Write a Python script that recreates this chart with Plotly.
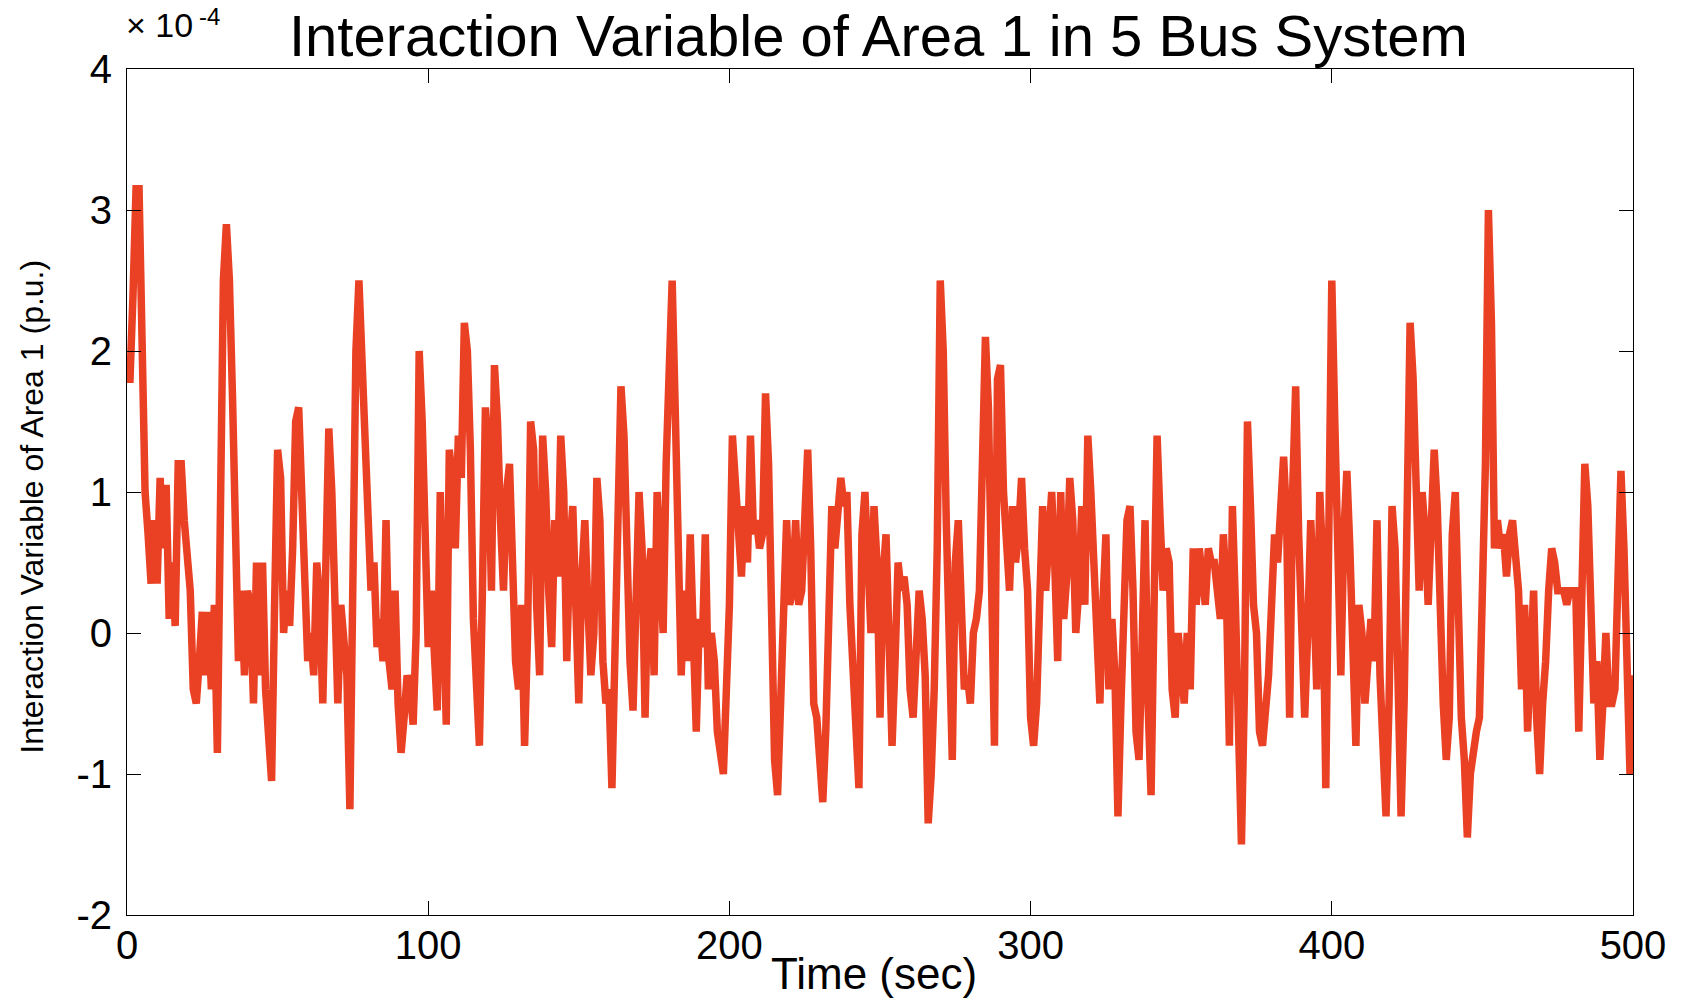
import plotly.graph_objects as go

# Time axis (sec), one sample per second
time_sec = list(range(0, 501))

# Interaction variable of Area 1, in units of 1e-4 p.u.
values_e4 = [
    1.8, 1.8, 2.4, 3.15, 3.15, 2.0, 1.0, 0.7, 0.35, 0.8,
    0.35, 1.1, 0.6, 1.05, 0.1, 0.5, 0.05, 1.2, 1.2, 0.8,
    0.6, 0.3, -0.4, -0.5, -0.2, 0.15, -0.3, 0.15, -0.4, 0.2,
    -0.85, 0.5, 2.5, 2.9, 2.5, 1.7, 0.8, -0.2, 0.3, -0.3,
    0.3, 0.2, -0.5, 0.5, -0.3, 0.5, -0.4, -0.7, -1.05, 0.2,
    1.3, 1.1, 0.0, 0.3, 0.05, 0.6, 1.5, 1.6, 1.0, 0.4,
    -0.2, 0.0, -0.3, 0.5, 0.2, -0.5, 0.8, 1.45, 1.0, 0.2,
    -0.5, 0.2, 0.0, -0.3, -1.25, 0.4, 2.0, 2.5, 2.0, 1.5,
    0.9, 0.3, 0.5, -0.1, 0.1, -0.2, 0.8, -0.2, -0.4, 0.3,
    -0.5, -0.85, -0.6, -0.3, -0.4, -0.65, 0.0, 2.0, 1.5, 0.6,
    -0.1, 0.3, -0.3, -0.55, 1.0, 0.2, -0.65, 1.3, 1.1, 0.6,
    1.4, 1.1, 2.2, 2.0, 1.3, 0.1, -0.5, -0.8, 0.3, 1.6,
    1.3, 0.3, 1.9, 1.5, 0.8, 0.3, 1.0, 1.2, 0.5, -0.2,
    -0.4, 0.2, -0.8, 0.0, 1.5, 1.3, 0.2, -0.3, 1.4, 1.0,
    0.3, -0.1, 0.8, 0.4, 1.4, 1.0, -0.2, 0.6, 0.9, 0.1,
    -0.5, 0.4, 0.8, 0.2, -0.3, 0.0, 1.1, 0.8, -0.2, -0.5,
    -0.4, -1.1, -0.3, 0.8, 1.75, 1.4, 0.5, -0.2, -0.55, 0.2,
    1.0, 0.6, -0.6, 0.4, 0.6, -0.3, 1.0, 0.5, 0.0, 1.2,
    2.0, 2.5, 1.6, 0.4, -0.3, 0.3, -0.2, 0.7, -0.3, -0.7,
    0.1, -0.1, 0.7, -0.4, 0.0, -0.2, -0.7, -0.9, -1.0, -0.4,
    0.2, 1.4, 1.1, 0.7, 0.4, 0.9, 0.5, 1.4, 0.7, 0.8,
    0.6, 0.7, 1.7, 1.2, 0.2, -0.9, -1.15, -0.5, 0.5, 0.8,
    0.2, 0.3, 0.8, 0.2, 0.3, 0.8, 1.3, 0.6, -0.5, -0.6,
    -1.0, -1.2, -0.7, 0.4, 0.9, 0.6, 0.8, 1.1, 0.9, 1.0,
    0.2, -0.3, -0.5, -1.1, 0.7, 1.0, 0.5, 0.0, 0.9, 0.5,
    -0.6, 0.4, 0.7, -0.3, -0.8, -0.2, 0.5, 0.3, 0.4, 0.2,
    -0.4, -0.6, 0.0, 0.3, 0.1, -0.3, -1.35, -1.0, -0.4, 0.6,
    2.5, 2.0, 0.8, -0.3, -0.9, 0.5, 0.8, 0.2, -0.4, -0.3,
    -0.5, 0.0, 0.1, 0.3, 1.3, 2.1, 1.6, 0.3, -0.8, 1.8,
    1.9, 1.0, 0.5, 0.3, 0.9, 0.5, 0.7, 1.1, 0.6, 0.3,
    -0.6, -0.8, -0.5, 0.2, 0.9, 0.3, 0.7, 1.0, 0.5, -0.2,
    1.0, 0.1, 0.4, 1.1, 0.8, 0.0, 0.3, 0.9, 0.2, 1.4,
    1.0, 0.5, -0.3, -0.5, 0.2, 0.7, -0.4, 0.1, -0.3, -1.3,
    -0.5, 0.2, 0.8, 0.9, 0.3, -0.7, -0.9, -0.1, 0.8, -0.5,
    -1.15, 0.2, 1.4, 0.8, 0.3, 0.6, 0.5, -0.4, -0.6, 0.0,
    -0.3, -0.5, 0.0, -0.4, 0.6, 0.2, 0.6, 0.4, 0.2, 0.6,
    0.5, 0.5, 0.3, 0.1, 0.7, 0.3, -0.8, 0.9, 0.2, -0.6,
    -1.5, -0.4, 1.5, 0.9, 0.2, 0.0, -0.7, -0.8, -0.6, -0.3,
    0.2, 0.7, 0.5, 1.0, 1.25, 0.8, -0.6, 1.0, 1.75, 0.7,
    -0.1, -0.6, 0.0, 0.8, 0.3, -0.4, 1.0, 0.5, -1.1, 0.5,
    2.5, 1.5, 0.2, -0.3, 0.7, 1.15, 0.6, 0.0, -0.8, 0.2,
    0.0, -0.5, -0.1, 0.1, -0.2, 0.8, -0.3, -0.8, -1.3, -0.5,
    0.9, 0.6, -0.6, -1.3, -0.5, 0.8, 2.2, 1.8, 1.0, 0.3,
    1.0, 0.7, 0.2, 0.7, 1.3, 0.9, 0.0, -0.5, -0.9, -0.6,
    0.7, 1.0, 0.2, -0.6, -0.9, -1.45, -1.0, -0.8, -0.7, -0.6,
    0.2, 1.2, 3.0, 2.2, 0.6, 0.8, 0.6, 0.7, 0.4, 0.7,
    0.8, 0.5, 0.3, -0.4, 0.2, -0.7, -0.2, 0.3, -0.6, -1.0,
    -0.5, -0.2, 0.3, 0.6, 0.5, 0.3, 0.3, 0.3, 0.2, 0.3,
    0.3, 0.3, -0.7, 0.5, 1.2, 0.9, 0.2, -0.5, -0.2, -0.9,
    -0.5, 0.0, -0.5, -0.5, -0.4, 0.4, 1.15, 0.6, -0.2, -1.0,
    -0.3,
]
SCALE = 1e-4

x_ticks = [0, 100, 200, 300, 400, 500]
y_ticks_e4 = [-2, -1, 0, 1, 2, 3, 4]

title_text = "Interaction Variable of Area 1 in 5 Bus System"
x_title = "Time (sec)"
y_title = "Interaction Variable of Area 1 (p.u.)"
exp_base = "\u00d7 10"
exp_power = "-4"

FONT = "Liberation Sans, Arial, sans-serif"

# plot-area geometry in pixels (used only to place text annotations)
PLOT_TOP, PLOT_BOTTOM, PLOT_LEFT, PLOT_W = 69, 915.5, 127, 1506
PLOT_H = PLOT_BOTTOM - PLOT_TOP


def px_x(px):
    return (px - PLOT_LEFT) / PLOT_W


def px_y(px):
    return (PLOT_BOTTOM - px) / PLOT_H


fig = go.Figure()
fig.add_trace(go.Scatter(
    x=time_sec,
    y=[v * SCALE for v in values_e4],
    mode="lines",
    line=dict(color="rgb(234,64,36)", width=7.5),
    showlegend=False,
))

fig.update_layout(
    width=1683, height=1000,
    margin=dict(l=127, r=50, t=69, b=84.5),
    paper_bgcolor="white", plot_bgcolor="white",
    font=dict(family=FONT, color="black"),
    xaxis=dict(
        range=[0, 500], tickvals=x_ticks, ticktext=[str(t) for t in x_ticks],
        ticks="inside", ticklen=14, tickwidth=1, tickcolor="black",
        showline=True, linecolor="black", linewidth=1, mirror="ticks",
        showgrid=False, zeroline=False, automargin=False,
        tickfont=dict(size=40, family=FONT), ticklabelstandoff=-5,
    ),
    yaxis=dict(
        range=[-2 * SCALE, 4 * SCALE],
        tickvals=[v * SCALE for v in y_ticks_e4], ticktext=[str(v) for v in y_ticks_e4],
        ticks="inside", ticklen=14, tickwidth=1, tickcolor="black",
        showline=True, linecolor="black", linewidth=1, mirror="ticks",
        showgrid=False, zeroline=False, automargin=False,
        tickfont=dict(size=40, family=FONT), ticklabelstandoff=6,
    ),
)

# Title
fig.add_annotation(
    text=title_text, xref="paper", yref="paper",
    x=px_x(878), y=px_y(35), xanchor="center", yanchor="middle",
    showarrow=False, font=dict(size=58, family=FONT, color="black"),
)

# X-axis title
fig.add_annotation(
    text=x_title, xref="paper", yref="paper",
    x=px_x(874), y=px_y(974), xanchor="center", yanchor="middle",
    showarrow=False, font=dict(size=44, family=FONT, color="black"),
)

# Y-axis title (rotated)
fig.add_annotation(
    text=y_title, xref="paper", yref="paper",
    x=px_x(32), y=px_y(507), xanchor="center", yanchor="middle", textangle=-90,
    showarrow=False, font=dict(size=32, family=FONT, color="black"),
)

# Exponent multiplier: base and superscript as separate texts
fig.add_annotation(
    text=exp_base, xref="paper", yref="paper",
    x=px_x(124), y=px_y(25), xanchor="left", yanchor="middle",
    showarrow=False, font=dict(size=34, family=FONT, color="black"),
)
fig.add_annotation(
    text=exp_power, xref="paper", yref="paper",
    x=px_x(197), y=px_y(16), xanchor="left", yanchor="middle",
    showarrow=False, font=dict(size=24, family=FONT, color="black"),
)

fig.write_html("out.html")
